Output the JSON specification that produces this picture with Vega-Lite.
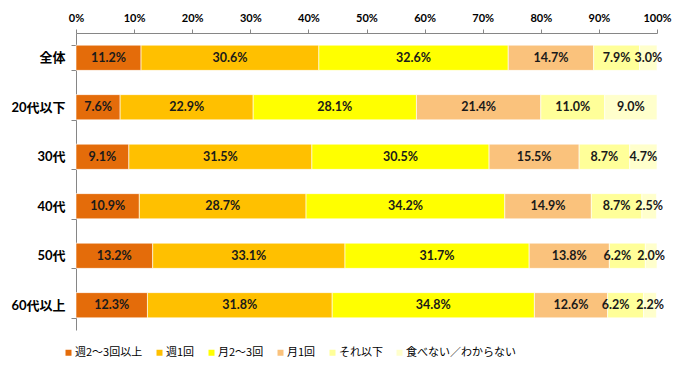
{
  "$schema": "https://vega.github.io/schema/vega-lite/v6.json",
  "width": 581,
  "height": 297,
  "autosize": {"type": "none"},
  "padding": {"left": 76, "top": 33, "right": 31, "bottom": 49},
  "background": "white",
  "config": {
    "view": {"stroke": null},
    "font": "Lato, Noto Sans CJK JP"
  },
  "data": {
    "values": [
      {"g": "全体", "c": "週2～3回以上", "o": 1, "v": 11.2},
      {"g": "全体", "c": "週1回", "o": 2, "v": 30.6},
      {"g": "全体", "c": "月2～3回", "o": 3, "v": 32.6},
      {"g": "全体", "c": "月1回", "o": 4, "v": 14.7},
      {"g": "全体", "c": "それ以下", "o": 5, "v": 7.9},
      {"g": "全体", "c": "食べない／わからない", "o": 6, "v": 3.0},
      {"g": "20代以下", "c": "週2～3回以上", "o": 1, "v": 7.6},
      {"g": "20代以下", "c": "週1回", "o": 2, "v": 22.9},
      {"g": "20代以下", "c": "月2～3回", "o": 3, "v": 28.1},
      {"g": "20代以下", "c": "月1回", "o": 4, "v": 21.4},
      {"g": "20代以下", "c": "それ以下", "o": 5, "v": 11.0},
      {"g": "20代以下", "c": "食べない／わからない", "o": 6, "v": 9.0},
      {"g": "30代", "c": "週2～3回以上", "o": 1, "v": 9.1},
      {"g": "30代", "c": "週1回", "o": 2, "v": 31.5},
      {"g": "30代", "c": "月2～3回", "o": 3, "v": 30.5},
      {"g": "30代", "c": "月1回", "o": 4, "v": 15.5},
      {"g": "30代", "c": "それ以下", "o": 5, "v": 8.7},
      {"g": "30代", "c": "食べない／わからない", "o": 6, "v": 4.7},
      {"g": "40代", "c": "週2～3回以上", "o": 1, "v": 10.9},
      {"g": "40代", "c": "週1回", "o": 2, "v": 28.7},
      {"g": "40代", "c": "月2～3回", "o": 3, "v": 34.2},
      {"g": "40代", "c": "月1回", "o": 4, "v": 14.9},
      {"g": "40代", "c": "それ以下", "o": 5, "v": 8.7},
      {"g": "40代", "c": "食べない／わからない", "o": 6, "v": 2.5},
      {"g": "50代", "c": "週2～3回以上", "o": 1, "v": 13.2},
      {"g": "50代", "c": "週1回", "o": 2, "v": 33.1},
      {"g": "50代", "c": "月2～3回", "o": 3, "v": 31.7},
      {"g": "50代", "c": "月1回", "o": 4, "v": 13.8},
      {"g": "50代", "c": "それ以下", "o": 5, "v": 6.2},
      {"g": "50代", "c": "食べない／わからない", "o": 6, "v": 2.0},
      {"g": "60代以上", "c": "週2～3回以上", "o": 1, "v": 12.3},
      {"g": "60代以上", "c": "週1回", "o": 2, "v": 31.8},
      {"g": "60代以上", "c": "月2～3回", "o": 3, "v": 34.8},
      {"g": "60代以上", "c": "月1回", "o": 4, "v": 12.6},
      {"g": "60代以上", "c": "それ以下", "o": 5, "v": 6.2},
      {"g": "60代以上", "c": "食べない／わからない", "o": 6, "v": 2.2}
    ]
  },
  "transform": [
    {"stack": "v", "groupby": ["g"], "sort": [{"field": "o", "order": "ascending"}], "as": ["v0", "v1"]},
    {"calculate": "(datum.v0 + datum.v1) / 2", "as": "mid"},
    {"calculate": "format(datum.v, '.1f') + '%'", "as": "label"}
  ],
  "encoding": {
    "y": {
      "field": "g",
      "type": "nominal",
      "sort": ["全体", "20代以下", "30代", "40代", "50代", "60代以上"],
      "scale": {"paddingInner": 0.49, "paddingOuter": 0.245},
      "axis": {
        "title": null,
        "orient": "left",
        "tickBand": "extent",
        "domainColor": "#868686",
        "tickColor": "#868686",
        "tickSize": 5,
        "labelFontSize": 13,
        "labelFontWeight": "bold",
        "labelColor": "#000000",
        "labelPadding": 6
      }
    }
  },
  "layer": [
    {
      "mark": {"type": "bar", "stroke": "white", "strokeWidth": 1, "strokeOpacity": 0.6},
      "encoding": {
        "x": {
          "field": "v0",
          "type": "quantitative",
          "scale": {"domain": [0, 100], "nice": false},
          "axis": {
            "title": null,
            "orient": "top",
            "values": [0, 10, 20, 30, 40, 50, 60, 70, 80, 90, 100],
            "labelExpr": "datum.value + '%'",
            "grid": false,
            "domainColor": "#868686",
            "tickColor": "#868686",
            "tickSize": 4,
            "labelFontSize": 11,
            "labelFontWeight": "bold",
            "labelColor": "#000000",
            "labelPadding": 6,
            "labelFlush": false
          }
        },
        "x2": {"field": "v1"},
        "color": {
          "field": "c",
          "type": "nominal",
          "sort": ["週2～3回以上", "週1回", "月2～3回", "月1回", "それ以下", "食べない／わからない"],
          "scale": {
            "domain": ["週2～3回以上", "週1回", "月2～3回", "月1回", "それ以下", "食べない／わからない"],
            "range": ["#E46C0A", "#FFC000", "#FFFF00", "#FAC27C", "#FFFF99", "#FFFFCC"]
          },
          "legend": {
            "title": null,
            "orient": "none",
            "direction": "horizontal",
            "legendX": -13,
            "legendY": 314,
            "symbolType": "square",
            "symbolSize": 36,
            "symbolStrokeWidth": 0,
            "labelFontSize": 11,
            "labelColor": "#000000",
            "labelOffset": 1,
            "columnPadding": 11,
            "labelFont": "Noto Sans CJK JP"
          }
        }
      }
    },
    {
      "transform": [{"filter": "!(datum.o == 5 && datum.v < 7)"}],
      "mark": {"type": "text", "fontSize": 12.5, "fontWeight": "bold", "color": "#1a1a1a"},
      "encoding": {
        "x": {"field": "mid", "type": "quantitative"},
        "text": {"field": "label"}
      }
    },
    {
      "transform": [{"filter": "datum.o == 5 && datum.v < 7"}],
      "mark": {"type": "text", "fontSize": 12.5, "fontWeight": "bold", "color": "#1a1a1a", "dx": -10},
      "encoding": {
        "x": {"field": "mid", "type": "quantitative"},
        "text": {"field": "label"}
      }
    }
  ]
}
